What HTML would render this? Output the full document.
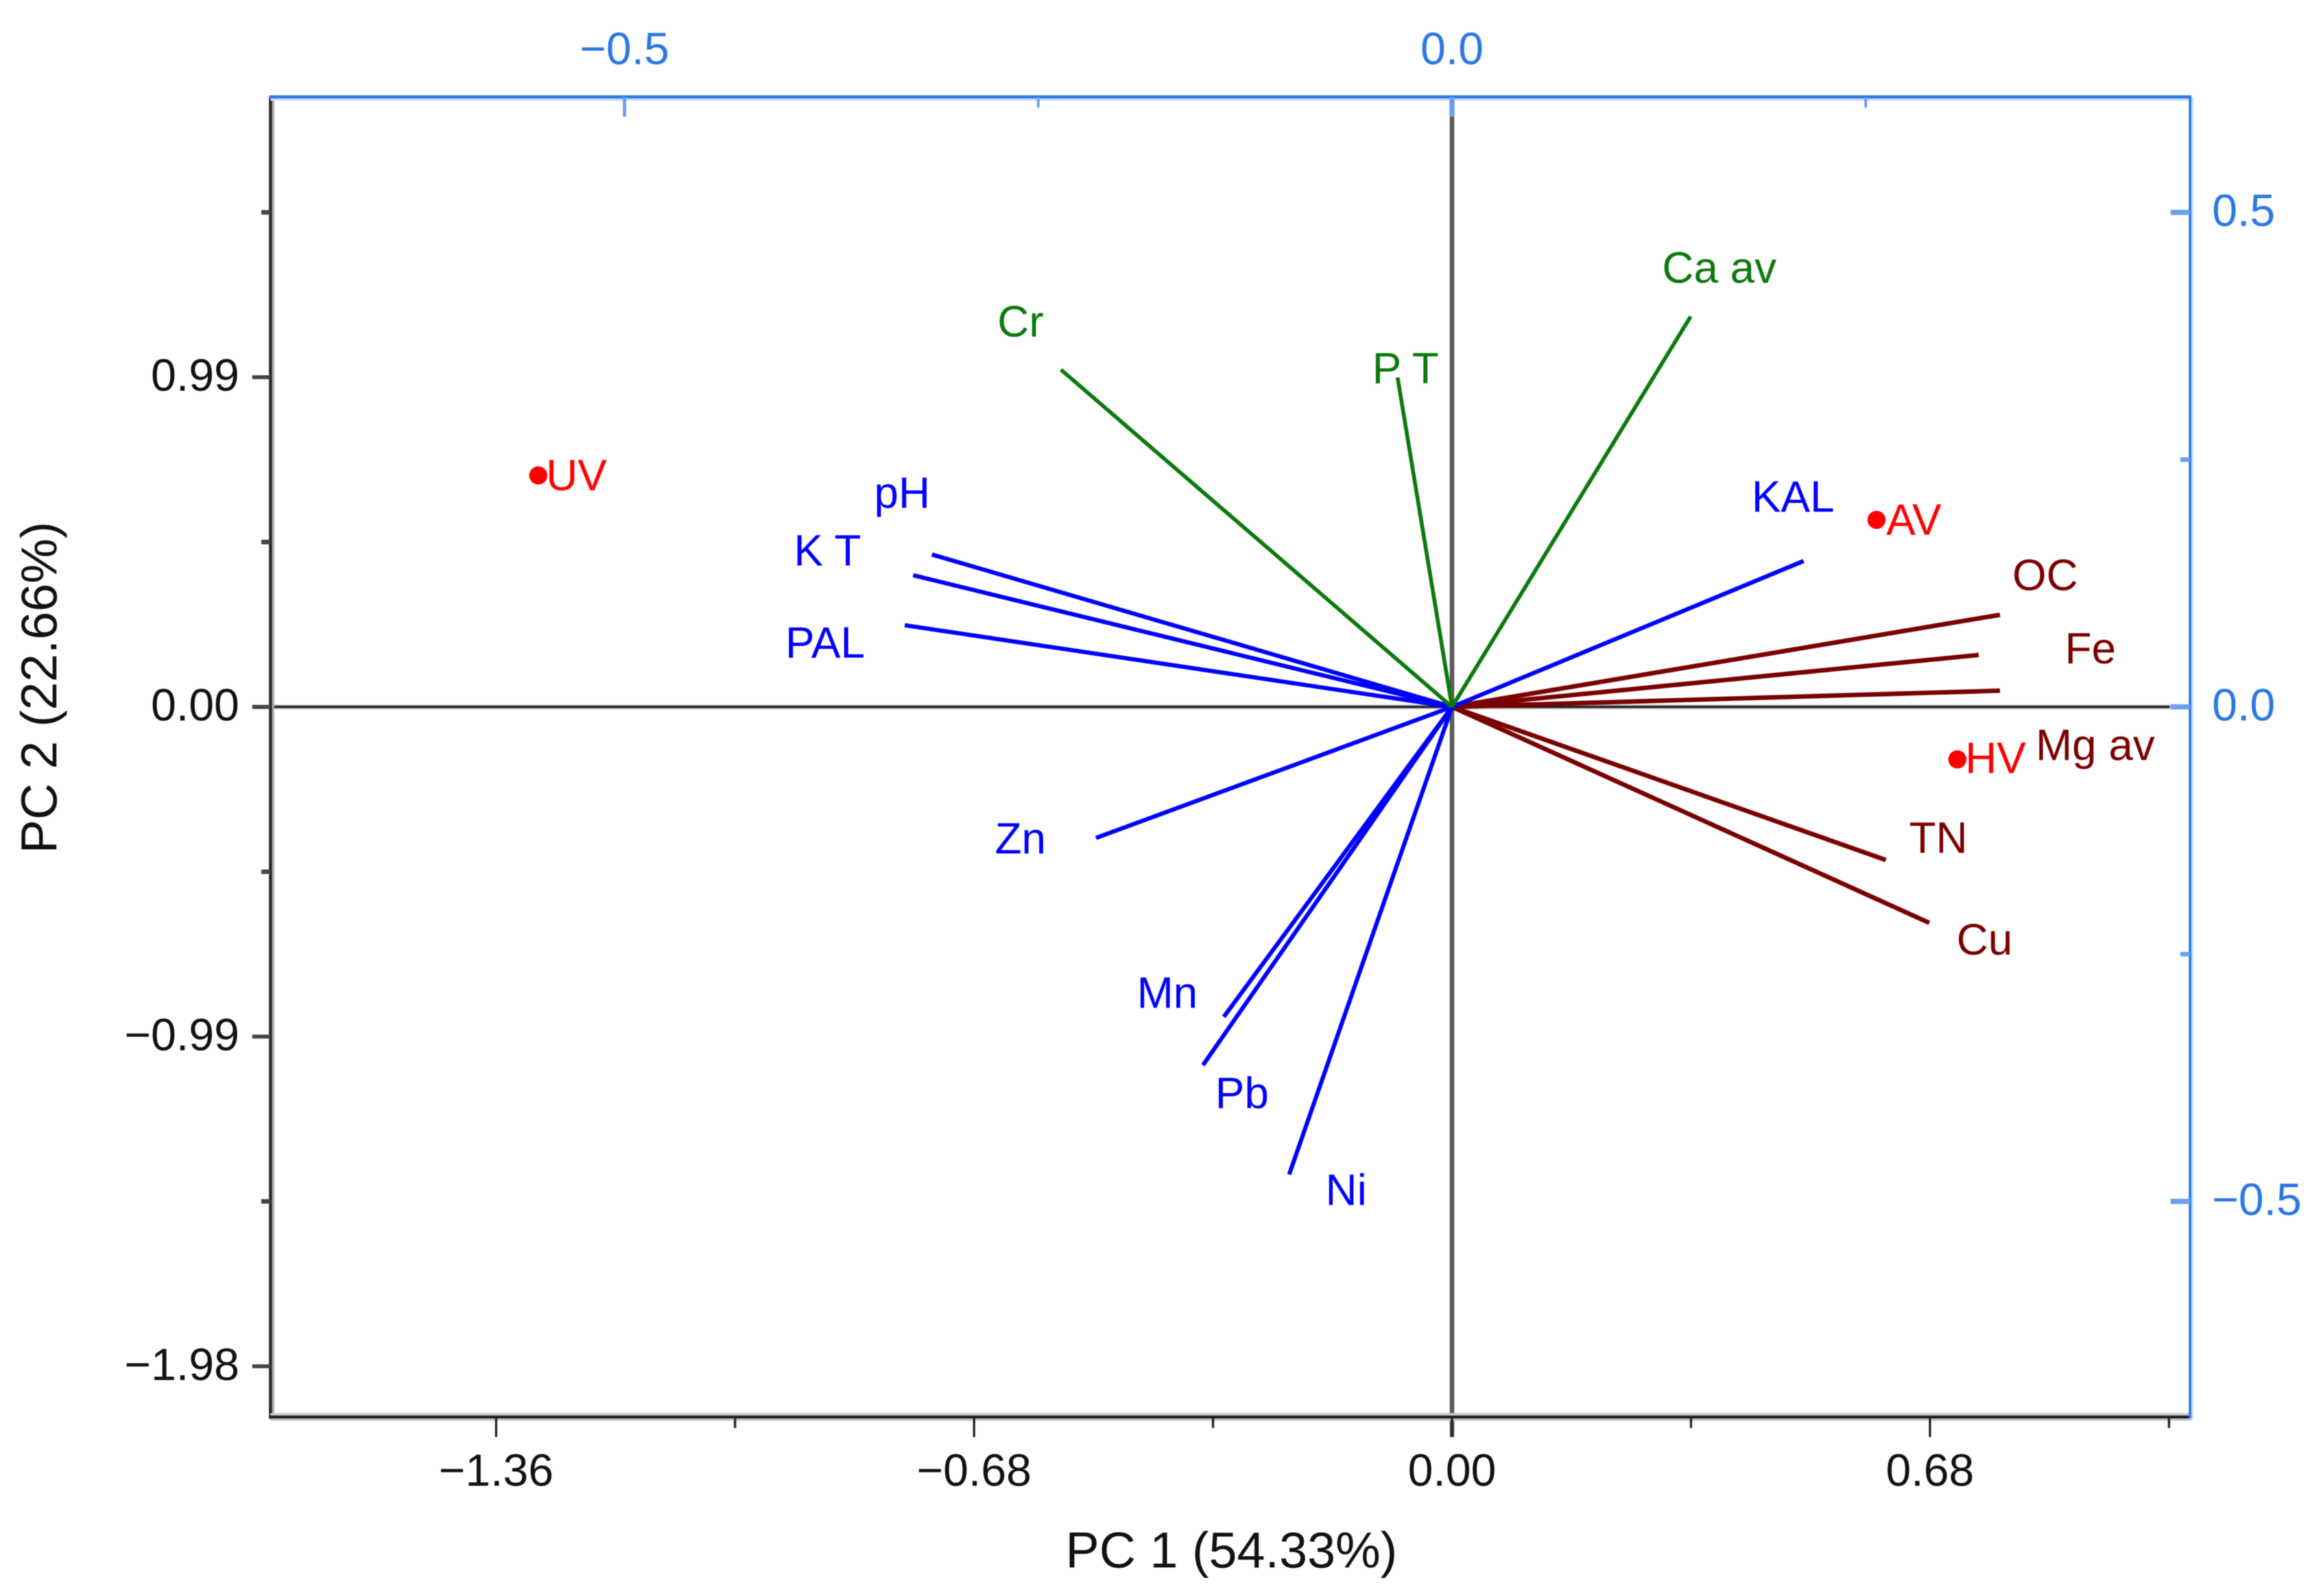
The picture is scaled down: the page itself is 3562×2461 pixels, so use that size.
<!DOCTYPE html>
<html lang="en">
<head>
<meta charset="utf-8">
<title>PCA biplot</title>
<style>
  html,body{margin:0;padding:0;background:#fff;}
  #chart{display:block;width:3562px;height:2461px;filter:blur(0.8px);}
  text{font-family:"Liberation Sans",Arial,sans-serif;}
</style>
</head>
<body>
<svg id="chart" xmlns="http://www.w3.org/2000/svg" width="3562" height="2461" viewBox="0 0 3562 2461">
  <rect x="0" y="0" width="3562" height="2461" fill="#ffffff"/>
  <g id="zero-lines"></g>
  <g id="frame"></g>
  <g id="ticks"></g>
  <g id="vectors"></g>
  <g id="scores"></g>
  <text x="1643" y="2417" font-size="78" fill="#111">PC 1 (54.33%)</text>
  <text transform="translate(87 1316) rotate(-90)" font-size="78" fill="#111">PC 2 (22.66%)</text>
</svg>
<script>
// ---- chart data ----
const vectorNames = ['Mg av','Fe','OC','TN','Cu','KAL','PAL','K T','pH','Zn','Mn','Pb','Ni','Cr','P T','Ca av'];
const vectorGroups = ['maroon','maroon','maroon','maroon','maroon','blue','blue','blue','blue','blue','blue','blue','blue','green','green','green'];
const loadingX = [0.3311,0.3182,0.3311,0.2621,0.2884,0.2124,-0.3307,-0.3256,-0.3143,-0.2151,-0.1379,-0.1505,-0.0984,-0.2363,-0.0329,0.1442];
const loadingY = [0.0164,0.0525,0.0931,-0.1548,-0.2184,0.1475,0.0826,0.1331,0.1541,-0.1325,-0.3134,-0.3623,-0.4728,0.3410,0.3331,0.3948];
const scoreNames = ['UV','AV','HV'];
const scoreX = [-1.300,0.604,0.719];
const scoreY = [0.695,0.5615,-0.1577];

const bottomTickValues = [-1.36,-0.68,0,0.68];
const bottomTickLabels = ['\u22121.36','\u22120.68','0.00','0.68'];
const bottomMinorTicks = [-1.02,-0.34,0.34,1.02];
const leftTickValues = [0.99,0,-0.99,-1.98];
const leftTickLabels = ['0.99','0.00','\u22120.99','\u22121.98'];
const leftMinorTicks = [1.485,0.495,-0.495,-1.485];
const topTickValues = [-0.5,0];
const topTickLabels = ['\u22120.5','0.0'];
const topMinorTicks = [-0.25,0.25];
const rightTickValues = [0.5,0,-0.5];
const rightTickLabels = ['0.5','0.0','\u22120.5'];
const rightMinorTicks = [0.25,-0.25];

// ---- layout (not data) ----
const plot = {left:417, right:3377, top:150, bottom:2185, cx:2239, cy:1090};
const vectorLabelOffset = {
  'Mg av':[55,107],'Fe':[133,13],'OC':[19,-38],'TN':[36,-11],'Cu':[42,49],'KAL':[-80,-76],
  'PAL':[-184,50],'K T':[-184,-15],'pH':[-89,-72],'Zn':[-156,24],'Mn':[-134,-14],'Pb':[19,66],
  'Ni':[56,47],'Cr':[-98,-51],'P T':[-39,9],'Ca av':[-44,-52]
};
const scoreLabelOffset = {'UV':[12,23],'AV':[15,23],'HV':[12,21]};
const groupColor = {maroon:'#7a0000',blue:'#0000ff',green:'#0a7a0a'};
const groupWidth = {maroon:7,blue:6.5,green:6};
const axisBlue = '#2b78e4';
const tickBlue = '#6aa0ee';
const labelSize = 67.5;
const tickSize = 70;

// ---- axis scales ----
const xPC = v => plot.cx + v * (737 / 0.68);
const yPC = v => plot.cy - v * (508.4 / 0.99);
const xLoad = v => plot.cx + v * (1276 / 0.5);
const yLoad = v => plot.cy - v * (762.5 / 0.5);

const NS = 'http://www.w3.org/2000/svg';
function mk(tag, attrs, parent){
  const el = document.createElementNS(NS, tag);
  for (const k in attrs) el.setAttribute(k, attrs[k]);
  parent.appendChild(el);
  return el;
}
const gZero = document.getElementById('zero-lines');
const gFrame = document.getElementById('frame');
const gTicks = document.getElementById('ticks');
const gVec = document.getElementById('vectors');
const gScores = document.getElementById('scores');
let el;

// zero lines
el = mk('line',{x1:389,x2:3346,y1:yPC(0),y2:yPC(0),stroke:'#bdbdbd','stroke-width':7},gZero);


el = mk('line',{x1:389,x2:3346,y1:yPC(0),y2:yPC(0),stroke:'#222','stroke-width':3.5},gZero);


el = mk('line',{x1:xPC(0),x2:xPC(0),y1:180,y2:2216,stroke:'#5c5c5c','stroke-width':7},gZero);



// frame
el = mk('line',{x1:421,x2:421,y1:plot.top,y2:plot.bottom,stroke:'#a8a8a8','stroke-width':4},gFrame);


el = mk('line',{x1:plot.left,x2:plot.left,y1:plot.top,y2:plot.bottom+3,stroke:'#262626','stroke-width':4.5},gFrame);


el = mk('line',{x1:plot.left,x2:plot.right+3,y1:plot.bottom,y2:plot.bottom,stroke:'#c8c8c8','stroke-width':12},gFrame);


el = mk('line',{x1:plot.left,x2:plot.right,y1:plot.bottom,y2:plot.bottom,stroke:'#1e1e1e','stroke-width':4.5},gFrame);


el = mk('line',{x1:plot.left,x2:plot.right+2,y1:plot.top+1,y2:plot.top+1,stroke:'#c6dcf8','stroke-width':9},gFrame);


el = mk('line',{x1:plot.left-2,x2:plot.right+2,y1:plot.top-0.5,y2:plot.top-0.5,stroke:axisBlue,'stroke-width':4.5},gFrame);


el = mk('line',{x1:plot.right+2,x2:plot.right+2,y1:plot.top,y2:plot.bottom+3,stroke:'#c6dcf8','stroke-width':7},gFrame);


el = mk('line',{x1:plot.right,x2:plot.right,y1:plot.top,y2:plot.bottom+2,stroke:axisBlue,'stroke-width':4},gFrame);



// bottom ticks
bottomTickValues.forEach((v,i)=>{
  let t = mk('line',{x1:xPC(v),x2:xPC(v),y1:plot.bottom,y2:2216,stroke:'#222','stroke-width':3.5},gTicks);
  
  
  let l = mk('text',{x:xPC(v),y:2291,'text-anchor':'middle','font-size':tickSize,fill:'#111'},gTicks);
  l.textContent = bottomTickLabels[i];
  
  
});
bottomMinorTicks.forEach(v=>{
  let t = mk('line',{x1:xPC(v),x2:xPC(v),y1:plot.bottom,y2:2202,stroke:'#222','stroke-width':3.5},gTicks);
  
  
});
// left ticks
leftTickValues.forEach((v,i)=>{
  let t = mk('line',{x1:389,x2:plot.left,y1:yPC(v),y2:yPC(v),stroke:'#444','stroke-width':6},gTicks);
  
  
  let l = mk('text',{x:369,y:yPC(v)+21,'text-anchor':'end','font-size':tickSize,fill:'#111'},gTicks);
  l.textContent = leftTickLabels[i];
  
  
});
leftMinorTicks.forEach(v=>{
  let t = mk('line',{x1:403,x2:plot.left,y1:yPC(v),y2:yPC(v),stroke:'#444','stroke-width':7},gTicks);
  
  
});
// top ticks
topTickValues.forEach((v,i)=>{
  let t = mk('line',{x1:xLoad(v),x2:xLoad(v),y1:plot.top,y2:180,stroke:tickBlue,'stroke-width':v===0?8:5},gTicks);
  
  
  let l = mk('text',{x:xLoad(v),y:99,'text-anchor':'middle','font-size':tickSize,fill:axisBlue},gTicks);
  l.textContent = topTickLabels[i];
  
  
});
topMinorTicks.forEach(v=>{
  let t = mk('line',{x1:xLoad(v),x2:xLoad(v),y1:plot.top,y2:166,stroke:tickBlue,'stroke-width':4},gTicks);
  
  
});
// right ticks
rightTickValues.forEach((v,i)=>{
  let t = mk('line',{x1:3347,x2:plot.right,y1:yLoad(v),y2:yLoad(v),stroke:tickBlue,'stroke-width':8},gTicks);
  
  
  let l = mk('text',{x:3411,y:yLoad(v)+21,'font-size':tickSize,fill:axisBlue},gTicks);
  l.textContent = rightTickLabels[i];
  
  
});
rightMinorTicks.forEach(v=>{
  let t = mk('line',{x1:3362,x2:plot.right,y1:yLoad(v),y2:yLoad(v),stroke:tickBlue,'stroke-width':7},gTicks);
  
  
});

// loading vectors: drawn maroon, then blue, then green on top
['maroon','blue','green'].forEach(group=>{
  vectorNames.forEach((name,i)=>{
    if (vectorGroups[i] !== group) return;
    const ex = xLoad(loadingX[i]), ey = yLoad(loadingY[i]);
    const ln = mk('line',{x1:xLoad(0),y1:yLoad(0),x2:ex,y2:ey,stroke:groupColor[group],'stroke-width':groupWidth[group]},gVec);
    
    
    const off = vectorLabelOffset[name];
    const tx = mk('text',{x:ex+off[0],y:ey+off[1],'font-size':labelSize,fill:groupColor[group]},gVec);
    tx.textContent = name;
    
    
  });
});

// score points
scoreNames.forEach((name,i)=>{
  const px = xPC(scoreX[i]), py = yPC(scoreY[i]);
  const dot = mk('circle',{cx:px,cy:py,r:14,fill:'#ff0000'},gScores);
  
  
  const off = scoreLabelOffset[name];
  const tx = mk('text',{x:px+off[0],y:py+off[1],'font-size':labelSize,fill:'#ff0000'},gScores);
  tx.textContent = name;
  
  
});
</script>
</body>
</html>
